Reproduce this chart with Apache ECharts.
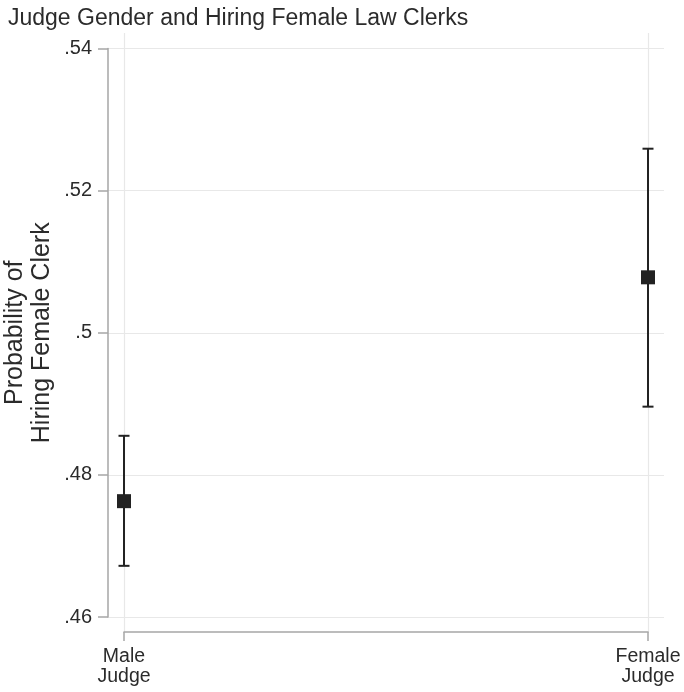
<!DOCTYPE html>
<html>
<head>
<meta charset="utf-8">
<script src="https://cdn.jsdelivr.net/npm/echarts@6/dist/echarts.min.js"></script>
<style>
  html, body { margin: 0; padding: 0; background: #fff; }
  #chart { width: 684px; height: 692px; }
</style>
</head>
<body>
<div id="chart"></div>
<script>
// Predicted probability of hiring a female clerk, by judge gender, with 95% CIs
const groups = ['Male\nJudge', 'Female\nJudge'];
const estimate = [0.4763, 0.5078];
const ciLow = [0.4672, 0.4896];
const ciHigh = [0.4855, 0.5259];
const yTicks = [0.46, 0.48, 0.50, 0.52, 0.54];

// Layout (pixels)
const plotLeft = 108, plotRight = 664;
const firstX = 124, lastX = 648;
const plotTop = 48.5, plotBottom = 617;
const axisTop = 33, axisBottom = 632;
const W = 684, H = 692;

const span = lastX - firstX;
const xMin = -(firstX - plotLeft) / span;
const xMax = (groups.length - 1) + (plotRight - lastX) / span;

const font = '"Liberation Sans", Arial, Helvetica, sans-serif';
const ink = '#222222';
const textColor = '#2b2b2b';
const axisGray = '#a6a6a6';
const gridGray = '#e8e8e8';

const fmt = v => String(+v.toFixed(2)).replace(/^0\./, '.');

const chart = echarts.init(document.getElementById('chart'), null, { renderer: 'canvas' });

chart.setOption({
  backgroundColor: '#ffffff',
  animation: false,
  title: {
    text: 'Judge Gender and Hiring Female Law Clerks',
    left: 3, top: 2,
    textStyle: { fontFamily: font, fontSize: 23, fontWeight: 'normal', color: textColor }
  },
  grid: [
    {
      left: plotLeft, right: W - plotRight, top: plotTop, bottom: H - plotBottom,
      containLabel: false, outerBoundsMode: 'none'
    },
    {
      left: firstX, right: W - lastX, top: axisTop, bottom: H - axisBottom,
      containLabel: false, outerBoundsMode: 'none'
    }
  ],
  xAxis: [
    { gridIndex: 0, type: 'value', min: xMin, max: xMax, show: false },
    {
      gridIndex: 1, type: 'value', min: 0, max: groups.length - 1, interval: 1,
      axisLine: { show: true, onZero: false, lineStyle: { color: axisGray, width: 1.5 } },
      axisTick: { show: true, length: 9, lineStyle: { color: axisGray, width: 1.5 } },
      splitLine: { show: true, lineStyle: { color: gridGray, width: 1.2 } },
      axisLabel: {
        margin: 15, fontFamily: font, fontSize: 19.5, color: textColor, lineHeight: 20,
        formatter: v => groups[Math.round(v)] || ''
      }
    }
  ],
  yAxis: [
    {
      gridIndex: 0, type: 'value', min: yTicks[0], max: yTicks[yTicks.length - 1], interval: 0.02,
      name: 'Probability of\nHiring Female Clerk',
      nameLocation: 'middle', nameGap: 52, nameRotate: 90, nameMoveOverlap: false,
      nameTextStyle: { fontFamily: font, fontSize: 25, color: textColor, lineHeight: 27 },
      axisLine: { show: true, onZero: false, lineStyle: { color: axisGray, width: 1.5 } },
      axisTick: { show: true, length: 10, lineStyle: { color: axisGray, width: 1.5 } },
      splitLine: { show: true, lineStyle: { color: gridGray, width: 1.2 } },
      axisLabel: { margin: 16, fontFamily: font, fontSize: 20, color: textColor, formatter: fmt }
    },
    { gridIndex: 1, type: 'value', show: false, min: 0, max: 1 }
  ],
  series: [
    {
      type: 'custom',
      xAxisIndex: 0, yAxisIndex: 0,
      data: estimate.map((_, i) => [i, ciLow[i], ciHigh[i]]),
      renderItem: (params, api) => {
        const x = api.value(0);
        const lo = api.coord([x, api.value(1)]);
        const hi = api.coord([x, api.value(2)]);
        const cap = 5.5;
        const style = { stroke: ink, lineWidth: 2 };
        return {
          type: 'group',
          children: [
            { type: 'line', shape: { x1: lo[0], y1: lo[1], x2: hi[0], y2: hi[1] }, style },
            { type: 'line', shape: { x1: lo[0] - cap, y1: lo[1], x2: lo[0] + cap, y2: lo[1] }, style },
            { type: 'line', shape: { x1: hi[0] - cap, y1: hi[1], x2: hi[0] + cap, y2: hi[1] }, style }
          ]
        };
      },
      z: 3
    },
    {
      type: 'scatter',
      xAxisIndex: 0, yAxisIndex: 0,
      symbol: 'rect', symbolSize: 14,
      itemStyle: { color: ink, opacity: 1 },
      data: estimate.map((v, i) => [i, v]),
      z: 4
    }
  ]
});
</script>
</body>
</html>
